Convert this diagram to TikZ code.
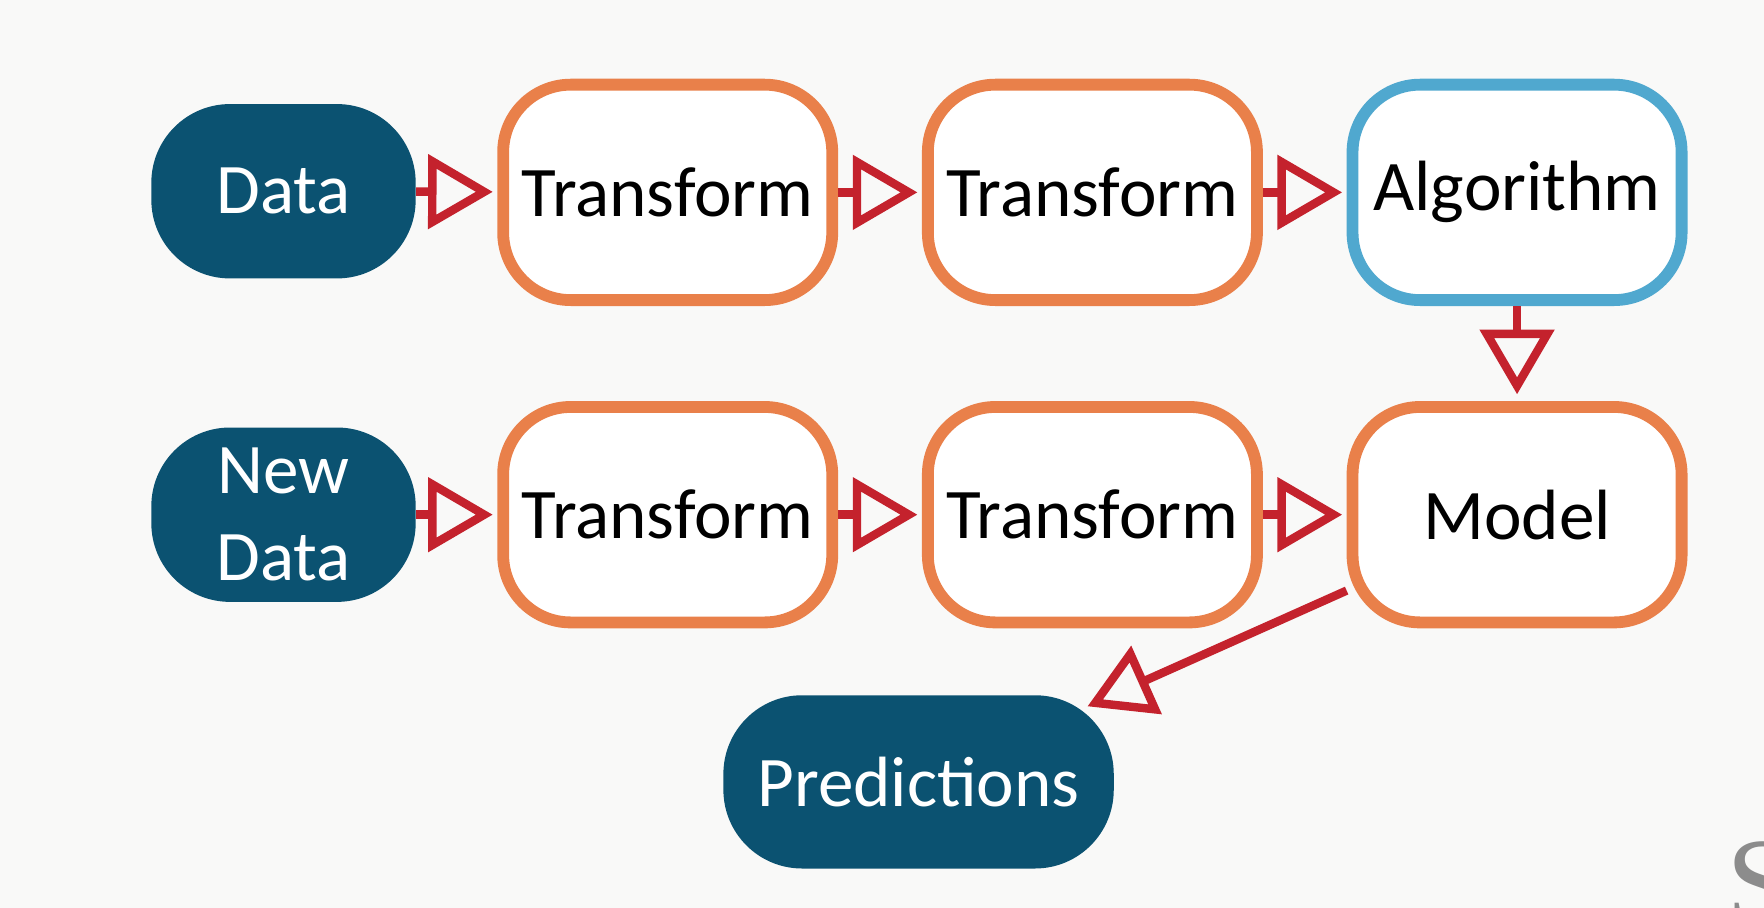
\documentclass[tikz,border=0pt]{standalone}
\usepackage{fontspec}
\setmainfont{Carlito}
\newfontfamily\logofont{Liberation Serif}
\usepackage{xcolor}
\usepackage{tikz}
\usetikzlibrary{arrows.meta}
\definecolor{pagebg}{HTML}{F9F9F8}
\definecolor{datablue}{HTML}{0B5271}
\definecolor{steporange}{HTML}{E9804A}
\definecolor{algoblue}{HTML}{50A8CF}
\definecolor{flowred}{HTML}{C4222D}

\begin{document}
\begin{tikzpicture}%
                    [x=1cm, y=1cm,
                    every node/.style={font=\fontsize{36}{44}\selectfont},
                    datanode/.style={fill=datablue, text=white, rounded corners=1.4cm, minimum width=4.7cm, minimum height=3.1cm, align=center, inner sep=0pt},
                    stepnode/.style={draw=steporange, line width=0.21cm, fill=white, rounded corners=1.2cm, minimum width=5.85cm, minimum height=3.83cm, inner sep=0pt},
                    algonode/.style={stepnode, draw=algoblue},
                    flow/.style={draw=flowred, line width=0.15cm, -{Triangle[open, length=1.15cm, width=1.3cm]}, shorten >=0.08cm}]

                %% Page
                \fill[pagebg] (0,0) rectangle (31.36,-16.14);
                \useasboundingbox (0,0) rectangle (31.36,-16.14);
                %%
                %% Training row
                %%
                \node[datanode] (data) at (5.04, -3.40) {Data};
                \node[stepnode] (trainA) at (11.87, -3.42) {Transform};
                \node[stepnode] (trainB) at (19.42, -3.42) {Transform};
                \node[algonode] (algo) at (26.97, -3.42) {Algorithm};
                %%
                %% Prediction row
                %%
                \node[datanode] (newdata) at (5.04, -9.15) {New\\Data};
                \node[stepnode] (predA) at (11.87, -9.15) {Transform};
                \node[stepnode] (predB) at (19.42, -9.15) {Transform};
                \node[stepnode] (model) at (26.97, -9.15) {Model};
                \node[datanode, minimum width=6.94cm, minimum height=3.08cm] (preds) at (16.33, -13.90) {Predictions};
                %%
                %% Flow arrows
                %%
                \draw[flow] (data) -- (trainA);
                \draw[flow] (trainA) -- (trainB);
                \draw[flow] (trainB) -- (algo);
                \draw[flow, shorten >=0.12cm] (algo) -- (model);
                \draw[flow] (newdata) -- (predA);
                \draw[flow] (predA) -- (predB);
                \draw[flow] (predB) -- (model);
                \draw[flow, shorten >=-0.5cm] (model.204) -- (preds);
                %%
                %% Logo corner
                \node[anchor=north west, text=black!45, font=\logofont\fontsize{64}{64}\selectfont, inner sep=0pt] (logo) at (30.68, -14.95) {S};
                %%
                \end{tikzpicture}
\end{document}
